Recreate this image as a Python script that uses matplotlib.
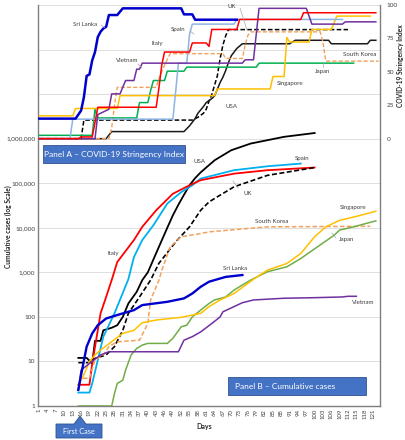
import matplotlib
matplotlib.use("Agg")
import matplotlib.pyplot as plt
from matplotlib.patches import Rectangle, Polygon
from matplotlib.lines import Line2D
from matplotlib.ticker import FixedLocator, FuncFormatter, NullLocator

plt.rcParams["font.family"] = ["Lato", "DejaVu Sans"]

W, H = 405, 440

# Oś X (dni)
day_ticks = list(range(1, 122, 3))

# Panel A - COVID-19 Stringency Index (dzień, wartość)
sl_str_days = [1, 14, 16, 17, 18, 19, 20, 21, 22, 23, 24, 25, 26, 29, 31, 52, 53, 56, 57, 72]
sl_str_vals = [15, 15, 21, 31, 47, 48, 58.6, 64.8, 76, 80, 82.4, 83.6, 92.5, 92.5, 97.5, 97.5, 93, 93, 89, 89]

it_str_days = [1, 15, 16, 20, 21, 22, 43, 44, 45, 46, 55, 56, 61, 62, 63, 72, 73, 95, 96, 122]
it_str_vals = [0, 0, 1.3, 1.3, 12, 23.5, 23.5, 38, 55, 64.8, 64.8, 71.6, 71.6, 69, 81.7, 81.7, 89.2, 89.2, 94.2, 94.2]

es_str_days = [1, 12, 13, 49, 50, 51, 54, 55, 56, 71, 72, 110]
es_str_vals = [0, 0, 14.6, 14.6, 35, 56.5, 56.5, 78, 85.7, 85.7, 89.2, 89.2]

uk_str_days = [1, 16, 17, 56, 58, 60, 61, 62, 63, 64, 65, 66, 67, 68, 69, 112]
uk_str_vals = [0, 0, 13.9, 13.9, 16, 19, 22, 28, 33, 40, 47, 60, 70, 77, 81.6, 81.6]

us_str_days = [1, 25, 27, 53, 55, 57, 58, 60, 61, 63, 64, 65, 66, 67, 68, 69, 70, 72, 74,
               91, 93, 105, 106, 119, 120, 122]
us_str_vals = [0, 0, 5.3, 5.3, 9.6, 15, 19, 24, 27, 30, 32, 37, 42, 46, 51, 57, 62, 67.5, 71,
               71, 73.6, 73.6, 71, 71, 73.6, 73.6]

kr_str_days = [1, 26, 27, 28, 29, 43, 44, 46, 48, 67, 68, 74, 75, 76, 77, 102, 103, 104, 123]
kr_str_vals = [0, 0, 8, 25, 38.4, 38.4, 45, 55, 63.6, 63.6, 60, 60, 70, 77.4, 79.9, 79.9, 72, 58, 58]

jp_str_days = [1, 20, 21, 22, 36, 37, 40, 41, 42, 46, 47, 53, 54, 79, 80, 114]
jp_str_vals = [2.5, 2.5, 22.2, 15.5, 15.5, 27, 27, 36, 43.5, 43.5, 50.5, 50.5, 53.5, 53.5, 56.5, 56.5]

sg_str_days = [1, 13, 14, 29, 30, 64, 65, 84, 85, 89, 90, 91, 98, 99, 106, 108, 120]
sg_str_vals = [17.1, 17.1, 22.6, 22.6, 32.2, 32.2, 37.2, 37.2, 46.5, 46.5, 75.7, 72.3, 72.3, 81.7, 81.7, 91.7, 91.7]

vn_str_days = [1, 21, 22, 25, 26, 27, 30, 32, 35, 36, 37, 38, 74, 75, 78, 80, 97, 99, 110, 111, 122]
vn_str_vals = [0, 0, 18, 21, 22, 33.5, 33.5, 43.5, 43.5, 52, 52, 56.5, 56.5, 59, 59, 97.5, 97.5, 85.7, 85.7, 87.4, 87.4]

# Panel B - przypadki skumulowane (dzień, liczba)
us_case_days = [15, 18, 20, 21, 23, 24, 27, 29, 31, 33, 36, 38, 40, 43, 47, 49, 51, 53, 55, 57,
                59, 64, 70, 77, 89, 100]
us_case_vals = [12, 12, 9, 29, 29, 50, 57, 65, 100, 200, 365, 670, 1000, 2700, 10000, 19000, 33000,
                55000, 90000, 130000, 175000, 327000, 550000, 777000, 1100000, 1340000]

it_case_days = [15, 19, 20, 22, 23, 25, 27, 29, 35, 38, 43, 49, 55, 59, 71, 83, 100]
it_case_vals = [3, 3, 9, 50, 120, 280, 670, 1700, 5300, 10500, 24700, 58000, 90000, 117000,
                164000, 196000, 225000]

es_case_days = [15, 19, 20, 22, 24, 28, 33, 35, 38, 42, 47, 52, 56, 59, 71, 83, 95]
es_case_vals = [2, 2, 3.2, 10.7, 36, 120, 700, 2200, 5300, 11400, 35000, 63000, 90000, 127000,
                196000, 240000, 276000]

uk_case_days = [15, 19, 21, 25, 28, 31, 33, 37, 41, 44, 50, 55, 59, 62, 65, 71, 83, 100]
uk_case_vals = [9.4, 9.4, 11.7, 14, 21.5, 50, 120, 280, 670, 1600, 4800, 10500, 24700, 38000,
                49500, 83000, 150000, 225000]

kr_case_days = [15, 16, 19, 21, 24, 26, 29, 37, 40, 41, 44, 45, 48, 52, 59, 62, 83, 120]
kr_case_vals = [2.3, 4.2, 4.2, 10.7, 14, 21.5, 27.6, 30, 71, 240, 670, 1100, 3700, 6300, 7400,
                8100, 10500, 10800]

sl_case_days = [15, 16, 18, 20, 22, 25, 29, 35, 38, 47, 53, 56, 59, 62, 64, 68, 74]
sl_case_vals = [2.3, 5, 21.5, 42.6, 65, 92, 110, 142, 184, 218, 260, 335, 473, 615, 670, 790, 870]

sg_case_days = [15, 17, 19, 21, 23, 26, 31, 35, 38, 43, 52, 59, 62, 66, 71, 78, 83, 90, 95, 100,
                104, 109, 115, 122]
sg_case_vals = [3, 5, 10, 14, 18, 25, 42.6, 50, 74, 85, 98, 120, 170, 240, 335, 700, 1120, 1580,
                2650, 6300, 10500, 14700, 18000, 23500]

jp_case_days = [15, 27, 28, 29, 31, 32, 34, 36, 38, 40, 47, 49, 52, 54, 56, 59, 62, 64, 68, 71,
                74, 77, 83, 90, 95, 101, 107, 109, 114, 122]
jp_case_vals = [1, 1, 1.9, 3.2, 3.8, 6.4, 14, 19.6, 23.3, 25.4, 25.4, 33, 60, 65, 100, 142, 200,
                240, 280, 400, 520, 670, 1030, 1330, 2040, 3730, 6800, 8900, 10500, 14300]

vn_case_days = [15, 16, 19, 23, 26, 51, 53, 56, 59, 63, 66, 67, 71, 74, 78, 89, 100, 110, 112, 115]
vn_case_vals = [2.3, 6.4, 9, 14, 16.5, 16.5, 30, 36, 46, 71, 100, 130, 170, 208, 240, 262, 270,
                280, 290, 290]


def fx(x):
    return x / W


def fy(y):
    return 1 - y / H


fig = plt.figure(figsize=(W / 100, H / 100), dpi=100)
ax = fig.add_axes([fx(38), fy(406), (380 - 38) / W, (406 - 5) / H])

# Panel B na osi logarytmicznej
ax.plot(us_case_days, us_case_vals, color="black", lw=1.3)
ax.plot(es_case_days, es_case_vals, color="#00B0F0", lw=1.3)
ax.plot(it_case_days, it_case_vals, color="#FF0000", lw=1.3)
ax.plot(uk_case_days, uk_case_vals, color="black", lw=1.2, dashes=(3, 1.5))
ax.plot(kr_case_days, kr_case_vals, color="#F4A15D", lw=1.1, dashes=(3, 1.5))
ax.plot(jp_case_days, jp_case_vals, color="#70AD47", lw=1.1)
ax.plot(sg_case_days, sg_case_vals, color="#FFC000", lw=1.1)
ax.plot(vn_case_days, vn_case_vals, color="#7030A0", lw=1.1)
ax.plot(sl_case_days, sl_case_vals, color="#0000CD", lw=1.7)

ax.set_yscale("log")
ax.set_ylim(1, 1e9)
ax.set_xlim(0.5, 123.5)
ax.yaxis.set_major_locator(FixedLocator([10.0 ** k for k in range(10)]))
ax.yaxis.set_minor_locator(NullLocator())
ax.yaxis.set_major_formatter(FuncFormatter(lambda v, p: f"{int(round(v)):,}" if v <= 1e6 else ""))
ax.grid(axis="y", color="#D9D9D9", lw=0.6)
ax.set_axisbelow(True)
ax.set_xticks(day_ticks)
ax.set_xticklabels([str(d) for d in day_ticks], rotation=90)
ax.tick_params(axis="x", labelsize=4.3, colors="#404040", length=0, pad=2)
ax.tick_params(axis="y", labelsize=4.6, colors="#404040", length=0, pad=2)
for s in ["left", "bottom"]:
    ax.spines[s].set_color("#7F7F7F")
    ax.spines[s].set_linewidth(1.0)
ax.spines["top"].set_visible(False)
ax.spines["right"].set_visible(False)

# Panel A na osi pomocniczej
ax2 = ax.twinx()
ax2.plot(uk_str_days, uk_str_vals, color="black", lw=1.1, dashes=(3, 1.5))
ax2.plot(us_str_days, us_str_vals, color="#1A1A1A", lw=1.1)
ax2.plot(kr_str_days, kr_str_vals, color="#F4A15D", lw=1.0, dashes=(3, 1.5))
ax2.plot(jp_str_days, jp_str_vals, color="#00B050", lw=1.1)
ax2.plot(sg_str_days, sg_str_vals, color="#FFC000", lw=1.1)
ax2.plot(es_str_days, es_str_vals, color="#8DB4E2", lw=1.1)
ax2.plot(vn_str_days, vn_str_vals, color="#7030A0", lw=1.1)
ax2.plot(it_str_days, it_str_vals, color="#FF0000", lw=1.1)
ax2.plot(sl_str_days, sl_str_vals, color="#0000CD", lw=1.8)
ax2.set_ylim(-200, 100)
ax2.set_yticks([0, 25, 50, 75, 100])
ax2.tick_params(axis="y", labelsize=4.6, colors="#404040", length=0, pad=5)
ax2.spines["right"].set_color("#7F7F7F")
ax2.spines["right"].set_linewidth(1.0)
for s in ["top", "left", "bottom"]:
    ax2.spines[s].set_visible(False)

# Tytuły osi
fig.text(fx(8), fy(227), "Cumulative cases (log Scale)", rotation=90, ha="center", va="center",
         fontsize=4.8, fontweight="bold", color="#262626")
fig.text(fx(400), fy(66), "COVID-19 Stringency Index", rotation=90, ha="center", va="center",
         fontsize=4.8, fontweight="bold", color="#262626")
fig.text(fx(204), fy(426), "Days", ha="center", va="center", fontsize=5, fontweight="bold", color="#262626")

# Pola z opisami paneli
fig.patches.append(Rectangle((fx(43), fy(163)), (185 - 43) / W, 18 / H, transform=fig.transFigure,
                             facecolor="#4472C4", edgecolor="#2F528F", lw=0.6))
fig.text(fx(114), fy(154), "Panel A \u2013 COVID-19 Stringency Index", ha="center", va="center",
         fontsize=6, color="white")
fig.patches.append(Rectangle((fx(228), fy(395)), (366 - 228) / W, 18 / H, transform=fig.transFigure,
                             facecolor="#4472C4", edgecolor="#2F528F", lw=0.6))
fig.text(fx(235), fy(386), "Panel B \u2013 Cumulative cases", ha="left", va="center",
         fontsize=6, color="white")
callout = [(56, 424), (74, 424), (80, 416), (86, 424), (102, 424), (102, 438), (56, 438)]
fig.patches.append(Polygon([(fx(x), fy(y)) for x, y in callout], closed=True, transform=fig.transFigure,
                           facecolor="#4472C4", edgecolor="#2F528F", lw=0.6))
fig.text(fx(79), fy(431), "First Case", ha="center", va="center", fontsize=5.3, color="white")

# Etykiety krajów
labels = [
    ("Sri Lanka", 85, 24), ("Spain", 178, 30), ("Italy", 157, 44), ("Vietnam", 127, 60),
    ("UK", 232, 7), ("South Korea", 360, 54), ("Japan", 323, 72), ("Singapore", 290, 83),
    ("USA", 232, 107),
    ("Italy", 113, 253), ("USA", 200, 161), ("Spain", 302, 158), ("UK", 248, 193),
    ("South Korea", 272, 221), ("Singapore", 353, 208), ("Japan", 347, 239),
    ("Sri Lanka", 235, 269), ("Vietnam", 363, 303),
]
for name, x, y in labels:
    fig.text(fx(x), fy(y), name, ha="center", va="center", fontsize=4.4, color="#404040")

leaders = [
    ((101, 25), (105, 28)), ((190, 31), (194, 34)), ((138, 64), (142, 68)),
    ((240, 8), (247, 30)), ((323, 63), (323, 67)), ((238, 188), (233, 181)),
    ((336, 238), (332, 233)),
]
for (x1, y1), (x2, y2) in leaders:
    fig.add_artist(Line2D([fx(x1), fx(x2)], [fy(y1), fy(y2)], transform=fig.transFigure,
                          color="#A6A6A6", lw=0.5))

fig.savefig("out.png", dpi=100)
